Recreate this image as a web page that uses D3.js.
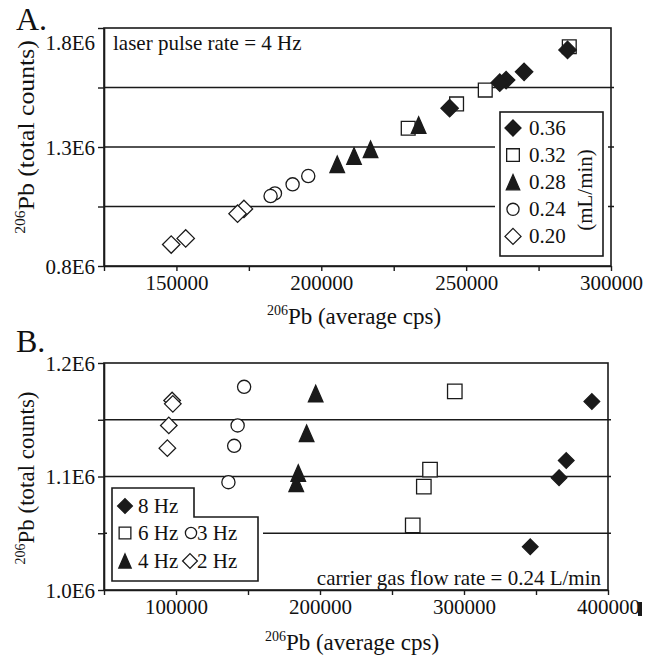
<!DOCTYPE html>
<html><head><meta charset="utf-8">
<script src="https://cdn.jsdelivr.net/npm/d3@7"></script>
<style>
body{margin:0;background:#fff}
svg{display:block}
text{font-family:"Liberation Serif","Times New Roman",serif;fill:#111}
</style>
</head><body>
<svg id="c" width="651" height="659"></svg>
<script>
// ---------- Panel A data (laser pulse rate = 4 Hz), series = carrier gas flow (mL/min)
const aLabels = ["0.36", "0.32", "0.28", "0.24", "0.20"];
const aX_036 = [285000, 270000, 263800, 261600, 244300];
const aY_036 = [1.708e6, 1.616e6, 1.581e6, 1.570e6, 1.463e6];
const aX_032 = [285600, 256600, 246700, 230000];
const aY_032 = [1.721e6, 1.539e6, 1.481e6, 1.379e6];
const aX_028 = [233600, 217000, 211300, 205500];
const aY_028 = [1.392e6, 1.290e6, 1.262e6, 1.227e6];
const aX_024 = [195500, 190100, 184000, 182500];
const aY_024 = [1.178e6, 1.143e6, 1.105e6, 1.094e6];
const aX_020 = [173300, 171100, 153200, 148200];
const aY_020 = [1.040e6, 1.020e6, 0.916e6, 0.890e6];
const aXTicks = [125000, 150000, 175000, 200000, 225000, 250000, 275000, 300000];
const aXLabels = [150000, 200000, 250000, 300000];
const aYTicks = [0.8e6, 1.05e6, 1.3e6, 1.55e6, 1.8e6];
const aYLabels = ["0.8E6", "1.3E6", "1.8E6"];
const aYLabelVals = [0.8e6, 1.3e6, 1.8e6];
const aGrid = [1.05e6, 1.3e6, 1.55e6];

// ---------- Panel B data (carrier gas = 0.24 L/min), series = laser pulse rate
const bLabels = ["8 Hz", "6 Hz", "4 Hz", "3 Hz", "2 Hz"];
const bX_8 = [388800, 371000, 366000, 346000];
const bY_8 = [1.166e6, 1.114e6, 1.099e6, 1.038e6];
const bX_6 = [293600, 276400, 272100, 264400];
const bY_6 = [1.175e6, 1.106e6, 1.091e6, 1.057e6];
const bX_4 = [197000, 190700, 184900, 183500];
const bY_4 = [1.173e6, 1.138e6, 1.103e6, 1.094e6];
const bX_3 = [147300, 142800, 140400, 136400];
const bY_3 = [1.179e6, 1.145e6, 1.127e6, 1.095e6];
const bX_2 = [97300, 97800, 95000, 94000];
const bY_2 = [1.167e6, 1.164e6, 1.145e6, 1.125e6];
const bXTicks = [50000, 100000, 150000, 200000, 250000, 300000, 350000, 400000];
const bXLabels = [100000, 200000, 300000, 400000];
const bYTicks = [1.0e6, 1.05e6, 1.1e6, 1.15e6, 1.2e6];
const bYLabels = ["1.0E6", "1.1E6", "1.2E6"];
const bYLabelVals = [1.0e6, 1.1e6, 1.2e6];
const bGrid = [1.05e6, 1.1e6, 1.15e6];

const svg = d3.select("#c");
const INK = "#1a1a1a";

function markerPath(type, k) {
  k = k || 1;
  if (type === "diamond") { const h = 8.7 * k; return `M0,${-h}L${h},0L0,${h}L${-h},0Z`; }
  if (type === "square") { const s = 6.9 * k; return `M${-s},${-s}H${s}V${s}H${-s}Z`; }
  if (type === "triangle") { const w = 7.3 * k, h = 8.3 * k; return `M0,${-h}L${w},${h}L${-w},${h}Z`; }
  if (type === "circle") { const r = 6.6 * k; return `M${r},0A${r},${r} 0 1,1 ${-r},0A${r},${r} 0 1,1 ${r},0Z`; }
}

function drawPoints(g, x, y, xs, ys, type, filled, k) {
  g.append("g").selectAll("path").data(xs.map((v, i) => [v, ys[i]])).join("path")
    .attr("transform", d => `translate(${x(d[0])},${y(d[1])})`)
    .attr("d", markerPath(type, k))
    .attr("fill", filled ? INK : "#fff")
    .attr("stroke", INK).attr("stroke-width", 1.3);
}

function frame(g, x, y, xTicks, xLabels, yTicks, yLabelVals, yLabels, grid, topLabelShift) {
  const [x0, x1] = x.range(); const [y0, y1] = y.range();
  g.append("g").selectAll("line").data(grid).join("line")
    .attr("x1", x0).attr("x2", x1 + 3).attr("y1", d => y(d)).attr("y2", d => y(d))
    .attr("stroke", INK).attr("stroke-width", 1.6);
  g.append("rect").attr("x", x0).attr("y", y1).attr("width", x1 - x0).attr("height", y0 - y1)
    .attr("fill", "none").attr("stroke", INK).attr("stroke-width", 1.6);
  const xa = g.append("g").attr("transform", `translate(0,${y0})`)
    .call(d3.axisBottom(x).tickValues(xTicks).tickSize(5).tickSizeOuter(0)
      .tickFormat(d => xLabels.includes(d) ? String(d) : ""));
  xa.select(".domain").attr("stroke", INK).attr("stroke-width", 1.6);
  xa.selectAll(".tick line").attr("stroke", INK).attr("stroke-width", 1.4);
  xa.selectAll(".tick text").attr("font-family", "Liberation Serif").attr("font-size", 21)
    .attr("fill", "#111").attr("y", 9).attr("dy", "0.71em");
  const ya = g.append("g").attr("transform", `translate(${x0},0)`)
    .call(d3.axisLeft(y).tickValues(yTicks).tickSize(6).tickSizeOuter(0)
      .tickFormat(d => { const i = yLabelVals.indexOf(d); return i >= 0 ? yLabels[i] : ""; }));
  ya.select(".domain").attr("stroke", INK).attr("stroke-width", 1.6);
  ya.selectAll(".tick line").attr("stroke", INK).attr("stroke-width", 1.4);
  ya.selectAll(".tick text").attr("font-family", "Liberation Serif").attr("font-size", 21)
    .attr("fill", "#111").attr("x", -9).attr("dy", d => (d === y.domain()[1] ? topLabelShift : 0) + 7 + "px");
}

function supTitle(g, tx, ty, rot, rest, stretch) {
  const t = g.append("text").attr("transform", `translate(${tx},${ty}) rotate(${rot}) scale(${stretch || 1},1)`)
    .attr("text-anchor", "middle").attr("font-size", 23);
  t.append("tspan").attr("font-size", 14).attr("dy", -9).text("206");
  t.append("tspan").attr("dy", 9).text(rest);
}

// ================= PANEL A =================
const gA = svg.append("g");
const xA = d3.scaleLinear().domain([125000, 300000]).range([104, 611]);
const yA = d3.scaleLinear().domain([0.8e6, 1.8e6]).range([266, 28]);
frame(gA, xA, yA, aXTicks, aXLabels, aYTicks, aYLabelVals, aYLabels, aGrid, 14);

drawPoints(gA, xA, yA, aX_032, aY_032, "square", false);
drawPoints(gA, xA, yA, aX_024, aY_024, "circle", false);
drawPoints(gA, xA, yA, aX_020, aY_020, "diamond", false);
drawPoints(gA, xA, yA, aX_028, aY_028, "triangle", true);
drawPoints(gA, xA, yA, aX_036, aY_036, "diamond", true);

gA.append("text").attr("x", 16).attr("y", 30).attr("font-size", 32).text("A.");
gA.append("text").attr("x", 113).attr("y", 50).attr("font-size", 21).text("laser pulse rate = 4 Hz");
supTitle(gA, 354, 324, 0, "Pb (average cps)");
supTitle(gA, 34, 137, -90, "Pb (total counts)", 1.12);

// legend A
const legA = gA.append("g");
legA.append("rect").attr("x", 500).attr("y", 112).attr("width", 103).attr("height", 144)
  .attr("fill", "#fff").attr("stroke", "#fff").attr("stroke-width", 10);
legA.append("rect").attr("x", 500).attr("y", 112).attr("width", 103).attr("height", 144)
  .attr("fill", "#fff").attr("stroke", INK).attr("stroke-width", 1.6);
const aTypes = [["diamond", true], ["square", false], ["triangle", true], ["circle", false], ["diamond", false]];
aLabels.forEach((lab, i) => {
  const yy = 128 + i * 27.1;
  legA.append("path").attr("transform", `translate(513,${yy})`).attr("d", markerPath(aTypes[i][0], 0.92))
    .attr("fill", aTypes[i][1] ? INK : "#fff").attr("stroke", INK).attr("stroke-width", 1.3);
  legA.append("text").attr("x", 529).attr("y", yy + 7).attr("font-size", 21).text(lab);
});
legA.append("text").attr("transform", "translate(592,190) rotate(-90)").attr("text-anchor", "middle")
  .attr("font-size", 21).text("(mL/min)");

// ================= PANEL B =================
const gB = svg.append("g");
const xB = d3.scaleLinear().domain([50000, 400000]).range([104, 608]);
const yB = d3.scaleLinear().domain([1.0e6, 1.2e6]).range([590, 363]);
frame(gB, xB, yB, bXTicks, bXLabels, bYTicks, bYLabelVals, bYLabels, bGrid, 0);

gB.append("text").attr("x", 16).attr("y", 352).attr("font-size", 32).text("B.");
gB.append("text").attr("x", 601).attr("y", 585).attr("font-size", 21).attr("text-anchor", "end")
  .text("carrier gas flow rate = 0.24 L/min");
supTitle(gB, 352, 650, 0, "Pb (average cps)");
supTitle(gB, 34, 478, -90, "Pb (total counts)", 1.0);
gB.append("rect").attr("x", 638).attr("y", 602).attr("width", 4).attr("height", 14).attr("fill", INK);

// legend B (stepped box)
const legB = gB.append("g");
const legPath = "M112,488H194V517H258V581H112Z";
legB.append("path").attr("d", legPath).attr("fill", "#fff").attr("stroke", "#fff").attr("stroke-width", 10);
legB.append("path").attr("d", legPath).attr("fill", "#fff").attr("stroke", INK).attr("stroke-width", 1.6);

drawPoints(gB, xB, yB, bX_6, bY_6, "square", false, 1.05);
drawPoints(gB, xB, yB, bX_3, bY_3, "circle", false, 1.0);
drawPoints(gB, xB, yB, bX_2, bY_2, "diamond", false, 0.95);
drawPoints(gB, xB, yB, bX_4, bY_4, "triangle", true, 1.0);
drawPoints(gB, xB, yB, bX_8, bY_8, "diamond", true, 0.9);

const bItems = [
  [bLabels[0], "diamond", true, 125, 138, 506],
  [bLabels[1], "square", false, 125, 138, 533],
  [bLabels[2], "triangle", true, 125, 138, 561],
  [bLabels[3], "circle", false, 191, 197, 533],
  [bLabels[4], "diamond", false, 190, 197, 561]
];
bItems.forEach(([lab, type, filled, mx, tx, yy]) => {
  legB.append("path").attr("transform", `translate(${mx},${yy})`).attr("d", markerPath(type, 0.85))
    .attr("fill", filled ? INK : "#fff").attr("stroke", INK).attr("stroke-width", 1.3);
  legB.append("text").attr("x", tx).attr("y", yy + 7).attr("font-size", 21).text(lab);
});
</script>
</body></html>
